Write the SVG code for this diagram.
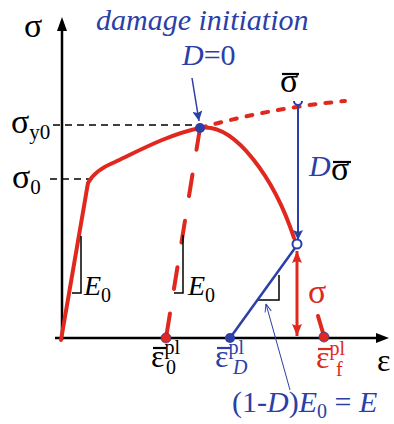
<svg xmlns="http://www.w3.org/2000/svg" width="394" height="424" viewBox="0 0 394 424">
<defs>
<style>
.t{font-family:"Liberation Serif","Times New Roman",serif;}
.it{font-style:italic;}
.blue{fill:#2b3fa6;}
.red{fill:#e0281e;}
.blk{fill:#000;}
.axis{stroke:#000;stroke-width:2.5;fill:none;}
.dash{stroke:#000;stroke-width:1.4;stroke-dasharray:7 5;fill:none;}
.curve{stroke:#e0281e;stroke-width:4;fill:none;stroke-linecap:round;}
.bl{stroke:#2b3fa6;fill:none;}
.thin{stroke:#000;stroke-width:1.5;fill:none;}
</style>
<marker id="ah" viewBox="0 0 10 10" refX="10" refY="5" markerWidth="10" markerHeight="10" markerUnits="userSpaceOnUse" orient="auto"><path d="M0,0 L10,5 L0,10 L2,5 z" fill="#2b3fa6"/></marker>
<marker id="ahr" viewBox="0 0 12 10" refX="12" refY="5" markerWidth="13" markerHeight="10" markerUnits="userSpaceOnUse" orient="auto-start-reverse"><path d="M0,0 L12,5 L0,10 L2,5 z" fill="#e0281e"/></marker>
<marker id="aht" viewBox="0 0 10 10" refX="10" refY="5" markerWidth="9" markerHeight="8" markerUnits="userSpaceOnUse" orient="auto"><path d="M0,1 L10,5 L0,9" fill="none" stroke="#2b3fa6" stroke-width="1.2"/></marker>
</defs>

<g id="axes">
<line class="axis" x1="62" y1="340" x2="62" y2="28"/>
<path d="M62,17 L67,31 L57,31 z" fill="#000"/>
<line class="axis" x1="55" y1="338" x2="378" y2="338"/>
<path d="M389,338 L376,333 L376,343 z" fill="#000"/>
<line class="dash" x1="53" y1="125" x2="198" y2="125"/>
<line class="dash" x1="50" y1="179" x2="90" y2="179"/>
</g>

<g id="connectors">
<path class="curve" d="M61,340 L88,183 Q95,170 115,162 C140,150 170,134 200,128 C235,122 275,180 294,238"/>
<path class="curve" d="M200,128 Q270,108 345,101" stroke-dasharray="6 10"/>
<path class="curve" d="M200,128 L166,338" stroke-dasharray="22 25"/>
<path class="curve" d="M318,316 L323,333"/>
<polyline class="thin" points="72,293 81,293 81,236"/>
<polyline class="thin" points="174,293 183,293 183,235"/>
<polyline class="thin" points="258,300 279,300 279,275"/>
<line class="bl" stroke-width="2.5" x1="230" y1="338" x2="295" y2="248"/>
<path class="bl" stroke-width="2" d="M294,101 A4,4 0 0 0 302,101"/>
<line class="bl" stroke-width="2" x1="298" y1="105" x2="298" y2="240" marker-end="url(#ah)"/>
<circle cx="297" cy="244" r="4.5" fill="#fff" stroke="#2b3fa6" stroke-width="2"/>
<line stroke="#e0281e" stroke-width="3" x1="297" y1="251" x2="297" y2="336" marker-start="url(#ahr)" marker-end="url(#ahr)"/>
<line class="bl" stroke-width="1.5" x1="192" y1="78" x2="199" y2="121" marker-end="url(#ah)"/>
<line class="bl" stroke-width="1" x1="290" y1="390" x2="266" y2="304" marker-end="url(#aht)"/>
</g>

<g id="points">
<circle cx="200" cy="128" r="5" fill="#2b3fa6"/>
<circle cx="166" cy="338" r="5" fill="#e0281e" stroke="#2b3fa6" stroke-width="0.8"/>
<circle cx="230" cy="338" r="5" fill="#2b3fa6"/>
<circle cx="324" cy="337" r="5" fill="#e0281e" stroke="#2b3fa6" stroke-width="0.8"/>
</g>

<g id="labels">
<text class="t blk" x="24" y="37" font-size="34">σ</text>
<text class="t blk" x="11" y="133" font-size="34">σ<tspan font-size="21" dy="6">y0</tspan></text>
<text class="t blk" x="12" y="188" font-size="34">σ<tspan font-size="21" dy="6">0</tspan></text>
<text class="t it blue" x="96" y="30" font-size="30">damage initiation</text>
<text class="t blue" x="182" y="65" font-size="30"><tspan class="it">D</tspan>=0</text>
<g id="sigbar"><line x1="282" y1="74" x2="299" y2="74" stroke="#000" stroke-width="2.2"/><text class="t blk" x="280" y="92" font-size="34">σ</text></g>
<g id="dsig"><text class="t it blue" x="309" y="176" font-size="30">D</text><line x1="333" y1="162" x2="351" y2="162" stroke="#000" stroke-width="2.2"/><text class="t blk" x="331" y="180" font-size="34">σ</text></g>
<text class="t it blk" x="84" y="295" font-size="28">E<tspan font-style="normal" font-size="20" dy="7">0</tspan></text>
<text class="t it blk" x="188" y="295" font-size="28">E<tspan font-style="normal" font-size="20" dy="7">0</tspan></text>
<text class="t red" x="308" y="303" font-size="34">σ</text>
<text class="t blk" x="377" y="371" font-size="32">ε</text>
<g id="eps0"><line x1="153" y1="348" x2="166" y2="348" stroke="#000" stroke-width="2.2"/><text class="t blk" x="151" y="367" font-size="32">ε<tspan font-size="20" dy="-13">pl</tspan></text><text class="t blk" x="166" y="374" font-size="20">0</text></g>
<g id="epsD"><line x1="217" y1="348" x2="231" y2="348" stroke="#2b3fa6" stroke-width="2.2"/><text class="t blue" x="215" y="367" font-size="32">ε<tspan font-size="20" dy="-13">pl</tspan></text><text class="t it blue" x="233" y="374" font-size="20">D</text></g>
<g id="epsf"><line x1="318" y1="349" x2="332" y2="349" stroke="#e0281e" stroke-width="2.2"/><text class="t red" x="316" y="368" font-size="32">ε<tspan font-size="20" dy="-13">pl</tspan></text><text class="t red" x="336" y="376" font-size="20">f</text></g>
<text class="t blue" x="232" y="412" font-size="30">(1-<tspan class="it">D</tspan>)<tspan class="it">E</tspan><tspan font-size="20" dy="6">0</tspan><tspan dy="-6"> = </tspan><tspan class="it">E</tspan></text>
</g>
</svg>
